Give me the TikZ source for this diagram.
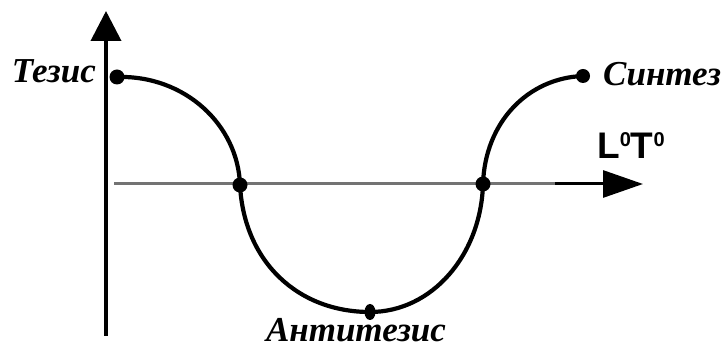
\documentclass[tikz,border=0pt]{standalone}
\usepackage{fontspec}
\setmainfont{Liberation Serif}
\newfontfamily\lblsans{Liberation Sans}
\usetikzlibrary{arrows.meta,shapes.geometric}
\begin{document}
\begin{tikzpicture}[x=1pt,y=-1pt,
  lbl/.style={font=\fontsize{35}{35}\selectfont\bfseries\itshape, inner sep=0pt},
  dot/.style={circle, fill=black, inner sep=0pt, minimum size=15pt},
  curve/.style={line width=4.2pt, black},
  axisv/.style={line width=3.8pt, black, -{Triangle[length=30pt,width=30pt]}},
  axish/.style={line width=3pt, black!55},
]
\useasboundingbox (0,0) rectangle (726,352);
% axes
\coordinate (vb) at (106,336);
\coordinate (vt) at (106,11);
\draw[axisv] (vb) -- (vt);
\coordinate (hl) at (114,184);
\coordinate (hm) at (555,184);
\coordinate (hr) at (643,184);
\draw[axish] (hl) -- (hm);
\draw[line width=3pt, black, -{Triangle[length=40pt,width=27pt]}] (hm) -- (hr);
% points
\node[dot] (t) at (117,77) {};
\node[dot] (c1) at (240,185) {};
\node[ellipse, fill=black, inner sep=0pt, minimum width=11pt, minimum height=16pt] (a) at (370,312) {};
\node[dot] (c2) at (483,184) {};
\node[dot, minimum size=14pt] (s) at (583,76) {};
% curve
\draw[curve] (t.center) .. controls (185,75) and (238,125) .. (c1.center)
  .. controls (244,262) and (298,312) .. (a.center)
  .. controls (432,312) and (481,255) .. (c2.center)
  .. controls (485,122) and (528,78) .. (s.center);
% labels
\node[lbl, anchor=base east] (lt) at (96,83) {Тезис};
\node[lbl, anchor=base west] (ls) at (603,86) {Синтез};
\node[lbl, anchor=base] (la) at (356,342) {Антитезис};
\node[inner sep=0pt, anchor=base west] (lo) at (597,159)
  {\lblsans\bfseries\fontsize{37}{37}\selectfont L\raisebox{12pt}{\fontsize{20}{20}\selectfont 0}T\raisebox{12pt}{\fontsize{20}{20}\selectfont 0}};
\end{tikzpicture}
\end{document}
